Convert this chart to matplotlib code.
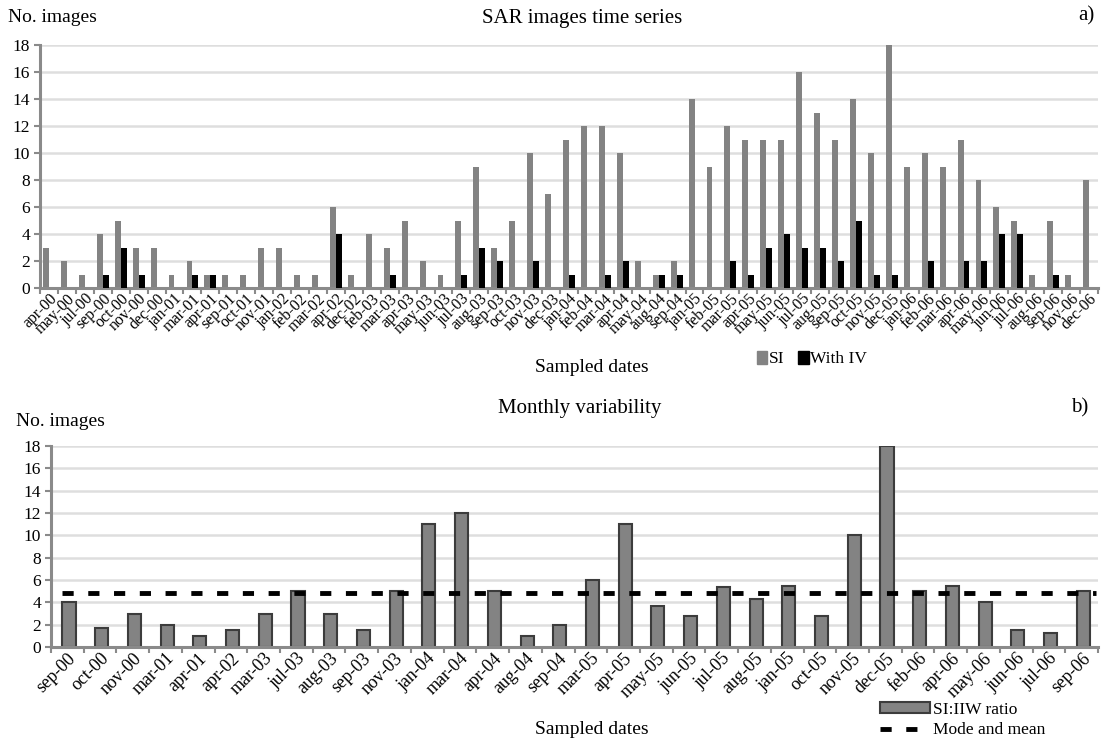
import matplotlib
matplotlib.use("Agg")
import matplotlib.pyplot as plt
import numpy as np
from matplotlib.patches import Patch
from matplotlib.lines import Line2D

plt.rcParams['font.family'] = ['Liberation Serif', 'DejaVu Serif']

# ---------------- Panel a data ----------------
dates_a = ["apr-00", "may-00", "jul-00", "sep-00", "oct-00", "nov-00", "dec-00", "jan-01",
           "mar-01", "apr-01", "sep-01", "oct-01", "nov-01", "jan-02", "feb-02", "mar-02",
           "apr-02", "dec-02", "feb-03", "mar-03", "apr-03", "may-03", "jun-03", "jul-03",
           "aug-03", "sep-03", "oct-03", "nov-03", "dec-03", "jan-04", "feb-04", "mar-04",
           "apr-04", "may-04", "aug-04", "sep-04", "jan-05", "feb-05", "mar-05", "apr-05",
           "may-05", "jun-05", "jul-05", "aug-05", "sep-05", "oct-05", "nov-05", "dec-05",
           "jan-06", "feb-06", "mar-06", "apr-06", "may-06", "jun-06", "jul-06", "aug-06",
           "sep-06", "nov-06", "dec-06"]
si = [3, 2, 1, 4, 5, 3, 3, 1,
      2, 1, 1, 1, 3, 3, 1, 1,
      6, 1, 4, 3, 5, 2, 1, 5,
      9, 3, 5, 10, 7, 11, 12, 12,
      10, 2, 1, 2, 14, 9, 12, 11,
      11, 11, 16, 13, 11, 14, 10, 18,
      9, 10, 9, 11, 8, 6, 5, 1,
      5, 1, 8]
with_iv = [0, 0, 0, 1, 3, 1, 0, 0,
           1, 1, 0, 0, 0, 0, 0, 0,
           4, 0, 0, 1, 0, 0, 0, 1,
           3, 2, 0, 2, 0, 1, 0, 1,
           2, 0, 1, 1, 0, 0, 2, 1,
           3, 4, 3, 3, 2, 5, 1, 1,
           0, 2, 0, 2, 2, 4, 4, 0,
           1, 0, 0]

# ---------------- Panel b data ----------------
dates_b = ["sep-00", "oct-00", "nov-00", "mar-01", "apr-01", "apr-02", "mar-03", "jul-03",
           "aug-03", "sep-03", "nov-03", "jan-04", "mar-04", "apr-04", "aug-04", "sep-04",
           "mar-05", "apr-05", "may-05", "jun-05", "jul-05", "aug-05", "jan-05", "oct-05",
           "nov-05", "dec-05", "feb-06", "apr-06", "may-06", "jun-06", "jul-06", "sep-06"]
ratio = [4, 1.67, 3, 2, 1, 1.5, 3, 5,
         3, 1.5, 5, 11, 12, 5, 1, 2,
         6, 11, 3.67, 2.75, 5.33, 4.33, 5.5, 2.8,
         10, 18, 5, 5.5, 4, 1.5, 1.25, 5]
mode_mean = 4.8

GRAY = '#838383'
GRID = '#dedede'
SPINE = '#8a8a8a'
DASH = (2.3, 3.0)
DLW = 3.5

fig = plt.figure(figsize=(11.02, 7.42), dpi=100)


def style_axes(ax, n):
    ax.set_ylim(0, 18)
    ax.set_yticks(np.arange(0, 19, 2))
    ax.set_xlim(-0.5, n - 0.5)
    ax.yaxis.grid(True, color=GRID, lw=1.8, zorder=0)
    ax.set_axisbelow(True)
    for s in ['top', 'right']:
        ax.spines[s].set_visible(False)
    for s in ['left', 'bottom']:
        ax.spines[s].set_color(SPINE)
        ax.spines[s].set_linewidth(2.2)
    ax.set_xticks(np.arange(n))
    ax.set_xticks(np.arange(n + 1) - 0.5, minor=True)
    ax.tick_params(axis='x', which='major', length=0, pad=2)
    ax.tick_params(axis='x', which='minor', length=4, width=1.5, color=SPINE, direction='out')
    ax.tick_params(axis='y', length=4, width=1.5, color=SPINE, direction='out', labelsize=12.5, pad=3)


# ---------------- Panel a ----------------
axa = fig.add_axes([40 / 1102, 1 - 288 / 742, 1058 / 1102, (288 - 45) / 742])
xa = np.arange(len(dates_a))
w = 0.33
axa.bar(xa - w / 2, si, width=w, color=GRAY, zorder=2)
axa.bar(xa + w / 2, with_iv, width=w, color='black', zorder=3)
style_axes(axa, len(dates_a))
axa.set_xticklabels(dates_a, rotation=45, ha='right', rotation_mode='anchor', fontsize=11.5)

fig.text(8 / 1102, 1 - 17 / 742, "No. images", fontsize=14, va='center', ha='left')
fig.text(582 / 1102, 1 - 18 / 742, "SAR images time series", fontsize=15, va='center', ha='center')
fig.text(1086 / 1102, 1 - 16 / 742, "a)", fontsize=15, va='center', ha='center')
fig.text(592 / 1102, 1 - 367 / 742, "Sampled dates", fontsize=14, va='center', ha='center')

fig.legend(handles=[Patch(color=GRAY, label='SI'), Patch(color='black', label='With IV')],
           loc='center', bbox_to_anchor=(812 / 1102, 1 - 359 / 742), ncol=2, frameon=False,
           handlelength=0.6, handleheight=0.8, handletextpad=0.1, columnspacing=0.8, fontsize=12.5)

# ---------------- Panel b ----------------
axb = fig.add_axes([51 / 1102, 1 - 647 / 742, 1047 / 1102, (647 - 446) / 742])
xb = np.arange(len(dates_b))
axb.bar(xb + 0.05, ratio, width=0.4, color=GRAY, edgecolor='#3c3c3c', lw=1.5, zorder=2)
axb.plot([xb[0] - 0.15, xb[-1] + 0.45], [mode_mean, mode_mean], color='black', lw=DLW,
         dashes=DASH, zorder=4)
style_axes(axb, len(dates_b))
axb.set_xticklabels(dates_b, rotation=45, ha='right', rotation_mode='anchor', fontsize=13)

fig.text(16 / 1102, 1 - 422 / 742, "No. images", fontsize=14, va='center', ha='left')
fig.text(580 / 1102, 1 - 409 / 742, "Monthly variability", fontsize=15, va='center', ha='center')
fig.text(1080 / 1102, 1 - 408 / 742, "b)", fontsize=15, va='center', ha='center')
fig.text(592 / 1102, 1 - 730 / 742, "Sampled dates", fontsize=14, va='center', ha='center')

fig.legend(handles=[Patch(facecolor=GRAY, edgecolor='#3c3c3c', lw=1.5, label='SI:IIW ratio'),
                    Line2D([0], [0], color='black', lw=DLW, dashes=DASH, label='Mode and mean')],
           loc='upper left', bbox_to_anchor=(880 / 1102, 1 - 702 / 742), frameon=False,
           borderaxespad=0.0, borderpad=0.0,
           handlelength=2.9, handleheight=0.6, handletextpad=0.15, labelspacing=0.25, fontsize=12.5)

fig.savefig("out.png", dpi=100)
